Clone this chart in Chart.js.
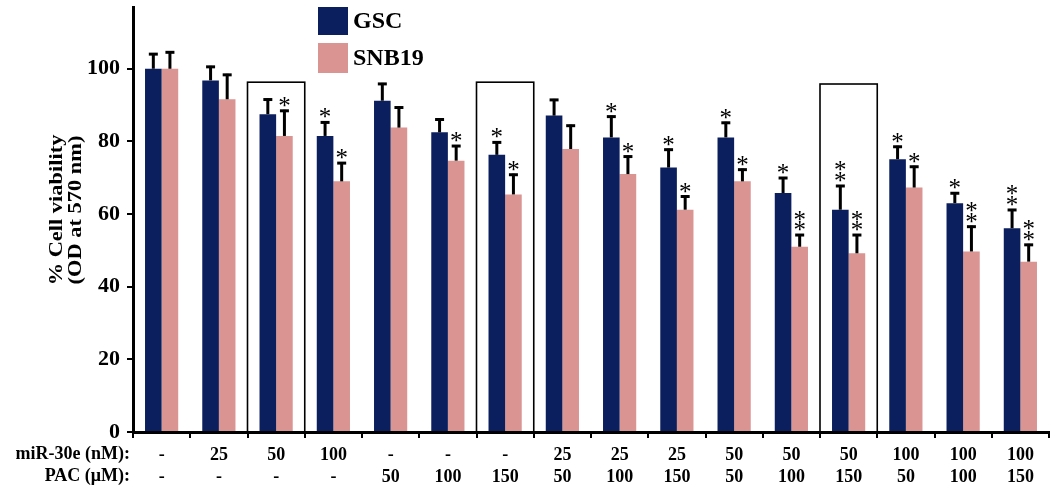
<!DOCTYPE html>
<html>
<head>
<meta charset="utf-8">
<script src="https://cdn.jsdelivr.net/npm/chart.js@4.4.0/dist/chart.umd.min.js"></script>
<style>
  html, body { margin: 0; padding: 0; background: #fff; }
  #wrap { width: 1056px; height: 486px; }
</style>
</head>
<body>
<div id="wrap"><canvas id="chartViab" width="1056" height="486"></canvas></div>
<script>
// ==================== Dados ====================
const mirLabels = ['-', '25', '50', '100', '-', '-', '-', '25', '25', '25', '50', '50', '50', '100', '100', '100'];
const pacLabels = ['-', '-', '-', '-', '50', '100', '150', '50', '100', '150', '50', '100', '150', '50', '100', '150'];

const gscValues = [100, 96.8, 87.5, 81.5, 91.2, 82.5, 76.3, 87.1, 81.1, 72.8, 81.1, 65.8, 61.2, 75.1, 63.0, 56.1];
const gscErr    = [4.3, 4.0, 4.3, 4.0, 4.9, 3.8, 3.7, 4.6, 6.0, 5.2, 4.3, 4.4, 6.8, 3.7, 3.0, 5.3];
const snbValues = [100, 91.6, 81.5, 69.0, 83.8, 74.7, 65.4, 77.9, 71.0, 61.2, 69.0, 51.0, 49.2, 67.3, 49.7, 46.9];
const snbErr    = [4.8, 7.0, 7.2, 5.3, 5.8, 4.3, 5.7, 6.7, 5.1, 3.9, 3.5, 3.5, 5.3, 6.0, 7.1, 4.9];

// numero de asteriscos acima de cada barra
const gscStars = [0, 0, 0, 1, 0, 0, 1, 0, 1, 1, 1, 1, 2, 1, 1, 2];
const snbStars = [0, 0, 1, 1, 0, 1, 1, 0, 1, 1, 1, 2, 2, 1, 2, 2];

// grupos destacados com retangulo (indice) e topo do retangulo (em %)
const boxGroups = [2, 6, 12];
const boxTops   = [96.3, 96.3, 95.8];

const yTicks = [0, 20, 40, 60, 80, 100];

const COR_GSC = '#0b1f5e';
const COR_SNB = '#da9492';
const FONTE = '"Liberation Serif", "Times New Roman", serif';

// ==================== Plugin: erros, asteriscos, caixas, legenda ====================
const extrasPlugin = {
  id: 'extras',
  afterDatasetsDraw(chart) {
    const ctx = chart.ctx;
    const y = chart.scales.y;
    const x = chart.scales.x;
    const errs = [gscErr, snbErr];
    const stars = [gscStars, snbStars];

    ctx.save();
    ctx.strokeStyle = '#000';
    ctx.fillStyle = '#000';

    // barras de erro (so para cima)
    chart.data.datasets.forEach((ds, di) => {
      const meta = chart.getDatasetMeta(di);
      meta.data.forEach((bar, i) => {
        const topo = y.getPixelForValue(ds.data[i] + errs[di][i]);
        ctx.lineWidth = 3;
        ctx.beginPath();
        ctx.moveTo(bar.x, bar.y);
        ctx.lineTo(bar.x, topo);
        ctx.stroke();
        ctx.beginPath();
        ctx.moveTo(bar.x - 4.5, topo + 1);
        ctx.lineTo(bar.x + 4.5, topo + 1);
        ctx.stroke();

        // asteriscos
        ctx.font = '25px ' + FONTE;
        ctx.textAlign = 'center';
        ctx.textBaseline = 'alphabetic';
        const m = ctx.measureText('*');
        const meio = (m.actualBoundingBoxDescent - m.actualBoundingBoxAscent) / 2;
        for (let k = 0; k < stars[di][i]; k++) {
          const cy = topo - 8 - k * 10.5;
          ctx.fillText('*', bar.x, cy - meio);
        }
      });
    });

    // caixas em volta dos grupos destacados
    const larg = x.width / chart.data.labels.length;
    ctx.lineWidth = 1.6;
    boxGroups.forEach((g, i) => {
      const cx = x.getPixelForValue(g);
      const t = y.getPixelForValue(boxTops[i]);
      ctx.strokeRect(cx - larg / 2, t, larg, y.getPixelForValue(0) - t);
    });

    // legenda
    ctx.fillStyle = COR_GSC;
    ctx.fillRect(318, 7, 30, 28);
    ctx.fillStyle = COR_SNB;
    ctx.fillRect(318, 43, 30, 30);
    ctx.fillStyle = '#000';
    ctx.font = 'bold 24px ' + FONTE;
    ctx.textAlign = 'left';
    ctx.textBaseline = 'middle';
    ctx.fillText('GSC', 353, 22);
    ctx.fillText('SNB19', 353, 59);

    // rotulos das linhas da tabela
    ctx.font = 'bold 18px ' + FONTE;
    ctx.textAlign = 'right';
    ctx.fillText('miR-30e (nM):', 130, 454);
    ctx.fillText('PAC (\u03bcM):', 130, 476);

    // titulo do eixo y (texto um pouco esticado, como no original)
    ctx.translate(67, 210);
    ctx.rotate(-Math.PI / 2);
    ctx.scale(1.18, 1);
    ctx.textAlign = 'center';
    ctx.font = 'bold 19px ' + FONTE;
    ctx.fillText('% Cell viability', 0, -9.5);
    ctx.fillText('(OD at 570 nm)', 0, 9.5);
    ctx.restore();
  }
};

// ==================== Grafico ====================
function renderViabilidade() {
  const ctx = document.getElementById('chartViab').getContext('2d');
  new Chart(ctx, {
    type: 'bar',
    data: {
      labels: mirLabels.map((m, i) => [m, pacLabels[i]]),
      datasets: [
        { label: 'GSC', data: gscValues, backgroundColor: COR_GSC, categoryPercentage: 0.58, barPercentage: 1 },
        { label: 'SNB19', data: snbValues, backgroundColor: COR_SNB, categoryPercentage: 0.58, barPercentage: 1 }
      ]
    },
    options: {
      responsive: false,
      animation: false,
      devicePixelRatio: 1,
      layout: { padding: { top: 7, right: 7, left: 0, bottom: 0 } },
      plugins: { legend: { display: false }, tooltip: { enabled: false } },
      scales: {
        x: {
          afterFit: s => { s.height = 54; s.paddingLeft = 0; s.paddingRight = 0; },
          grid: { offset: true, drawOnChartArea: false, tickLength: 6, lineWidth: 2, color: '#000' },
          border: { display: true, color: '#000', width: 3 },
          ticks: { color: '#000', font: { family: FONTE, size: 18, weight: 'bold', lineHeight: 1.22 }, padding: 6, maxRotation: 0, autoSkip: false }
        },
        y: {
          min: 0,
          max: 117,
          afterFit: s => { s.width = 133; s.paddingTop = 0; s.paddingBottom = 0; },
          afterBuildTicks: s => { s.ticks = yTicks.map(v => ({ value: v })); },
          grid: { drawOnChartArea: false, tickLength: 6, lineWidth: 2, color: '#000' },
          border: { display: true, color: '#000', width: 3 },
          ticks: { color: '#000', font: { family: FONTE, size: 22, weight: 'bold' }, padding: 7 }
        }
      }
    },
    plugins: [extrasPlugin]
  });
}

// ==================== Init ====================
window.addEventListener('load', () => {
  renderViabilidade();
});
</script>
</body>
</html>
